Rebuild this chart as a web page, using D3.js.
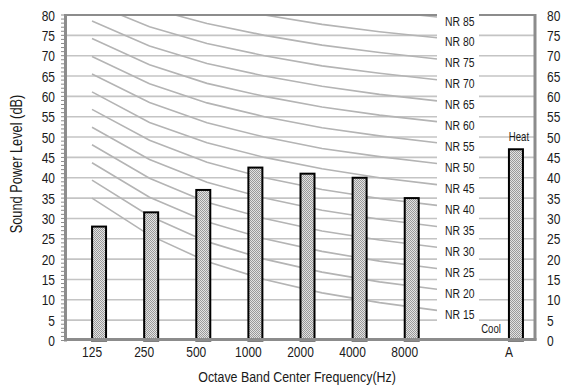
<!DOCTYPE html>
<html>
<head>
<meta charset="utf-8">
<script src="https://cdn.jsdelivr.net/npm/d3@7"></script>
<style>
  body { margin: 0; background: #fff; }
  text { font-family: "Liberation Sans", Arial, sans-serif; fill: #1a1a1a; }
</style>
</head>
<body>
<div id="chart"></div>
<script>
// categories on the bar axis ("" is the empty slot before A)
const categories = ["125", "250", "500", "1000", "2000", "4000", "8000", "", "A"]
const levels = [28, 31.5, 37, 42.5, 41, 40, 35, null, 47]

// NR curves, octave bands 125 .. 8000 Hz
const nrFreqs = ["125", "250", "500", "1000", "2000", "4000", "8000"]
const nrNames = [15, 20, 25, 30, 35, 40, 45, 50, 55, 60, 65, 70, 75, 80, 85]
const nrValues = [
  [35.0, 25.9, 19.4, 15, 11.7, 9.3, 7.4],
  [39.4, 30.6, 24.3, 20, 16.8, 14.4, 12.6],
  [43.7, 35.2, 29.2, 25, 21.9, 19.5, 17.7],
  [48.1, 39.9, 34.0, 30, 26.9, 24.7, 22.9],
  [52.4, 44.5, 38.9, 35, 32.0, 29.8, 28.0],
  [56.8, 49.2, 43.8, 40, 37.1, 34.9, 33.2],
  [61.1, 53.6, 48.6, 45, 42.2, 40.0, 38.3],
  [65.5, 58.5, 53.5, 50, 47.2, 45.2, 43.5],
  [69.8, 63.1, 58.4, 55, 52.3, 50.3, 48.6],
  [74.2, 67.8, 63.2, 60, 57.4, 55.4, 53.8],
  [78.5, 72.4, 68.1, 65, 62.5, 60.5, 58.9],
  [82.9, 77.1, 73.0, 70, 67.5, 65.7, 64.1],
  [87.2, 81.7, 77.9, 75, 72.6, 70.8, 69.2],
  [91.6, 86.4, 82.7, 80, 77.7, 75.9, 74.4],
  [95.9, 91.0, 87.6, 85, 82.8, 81.0, 79.5]
]
const yTicks = d3.range(0, 81, 5)

const width = 562
const height = 387
const plotL = 66, plotR = 535, plotT = 15, plotB = 340.5
const narrow = 0.8   // the chart font is a condensed sans

const svg = d3.select("#chart")
  .append("svg")
    .attr("width", width)
    .attr("height", height)

// condensed text: a scaled group around each label
function label(parent, px, py, str, size, anchor, rotate) {
  const g = parent.append("g")
    .attr("transform", `translate(${px},${py})` + (rotate ? " rotate(-90)" : "") + ` scale(${narrow},1)`)
  return g.append("text")
    .attr("text-anchor", anchor || "start")
    .attr("font-size", size)
    .text(str)
}

const defs = svg.append("defs")
const pat = defs.append("pattern")
    .attr("id", "dither")
    .attr("width", 2).attr("height", 2)
    .attr("patternUnits", "userSpaceOnUse")
pat.append("rect").attr("width", 2).attr("height", 2).attr("fill", "#e2e2e2")
pat.append("rect").attr("width", 1).attr("height", 1).attr("fill", "#9a9a9a")
pat.append("rect").attr("x", 1).attr("y", 1).attr("width", 1).attr("height", 1).attr("fill", "#9a9a9a")

defs.append("clipPath").attr("id", "plotClip")
  .append("rect")
    .attr("x", plotL).attr("y", plotT)
    .attr("width", plotR - plotL).attr("height", plotB - plotT)

const x = d3.scaleBand()
  .domain(categories)
  .range([plotL, plotR])
  .padding(0)

const xNR = d3.scalePoint()
  .domain(nrFreqs)
  .range([92, 437])

const y = d3.scaleLinear()
  .domain([0, 80])
  .range([plotB, plotT])

// horizontal grid
svg.append("g")
  .selectAll("line")
  .data(yTicks.filter(d => d > 0 && d < 80))
  .join("line")
    .attr("x1", plotL).attr("x2", plotR)
    .attr("y1", d => y(d)).attr("y2", d => y(d))
    .attr("stroke", "#c4c4c4")
    .attr("stroke-width", 1.6)

// NR curves
const line = d3.line()
  .x((d, i) => xNR(nrFreqs[i]))
  .y(d => y(d))

svg.append("g")
    .attr("clip-path", "url(#plotClip)")
  .selectAll("path")
  .data(nrValues)
  .join("path")
    .attr("d", line)
    .attr("fill", "none")
    .attr("stroke", "#b4b4b4")
    .attr("stroke-width", 1.6)

// white box behind NR labels
svg.append("rect")
    .attr("x", 437).attr("y", 11)
    .attr("width", 42).attr("height", plotB - 14)
    .attr("fill", "#fff")

// frame
const frame = svg.append("g").attr("stroke", "#8c8c8c")
frame.append("line").attr("x1", plotL).attr("x2", 437).attr("y1", plotT).attr("y2", plotT).attr("stroke-width", 2)
frame.append("line").attr("x1", 479).attr("x2", plotR).attr("y1", plotT).attr("y2", plotT).attr("stroke-width", 2)
frame.append("line").attr("x1", plotR).attr("x2", plotR).attr("y1", plotT - 1).attr("y2", plotB).attr("stroke-width", 3)

// bars
const barW = 14
svg.append("g")
  .selectAll("rect")
  .data(categories.map((c, i) => ({ c: c, v: levels[i] })).filter(d => d.v != null))
  .join("rect")
    .attr("x", d => x(d.c) + x.bandwidth() / 2)
    .attr("y", d => y(d.v))
    .attr("width", barW)
    .attr("height", d => y(0) - y(d.v))
    .attr("fill", "url(#dither)")
    .attr("stroke", "#000")
    .attr("stroke-width", 2)

// left and bottom axis lines
svg.append("line").attr("x1", 65.5).attr("x2", 65.5).attr("y1", plotT - 1).attr("y2", plotB + 1)
    .attr("stroke", "#8c8c8c").attr("stroke-width", 3)
svg.append("line").attr("x1", 64).attr("x2", plotR + 1.5).attr("y1", 339.5).attr("y2", 339.5)
    .attr("stroke", "#8c8c8c").attr("stroke-width", 3)

// minor ticks on the left axis
svg.append("g")
  .selectAll("line")
  .data(d3.range(0, 81, 1))
  .join("line")
    .attr("x1", 61).attr("x2", 64)
    .attr("y1", d => y(d)).attr("y2", d => y(d))
    .attr("stroke", "#8c8c8c")
    .attr("stroke-width", 1)

// y tick labels, both sides
const yl = svg.append("g")
yTicks.forEach(d => {
  label(yl, 55, y(d) + 5.5, d, 15, "end")
  label(yl, 547, y(d) + 5.5, d, 15, "start")
})

// x tick labels
const xl = svg.append("g")
categories.forEach(c => {
  label(xl, x(c) + x.bandwidth() / 2, 357, c, 15, "middle")
})

// NR labels at the end of each curve
const nl = svg.append("g")
nrNames.forEach((n, i) => {
  label(nl, 445, y(nrValues[i][6]) + 8.5, "NR " + n, 13, "start")
})

label(svg, x("A") + x.bandwidth() / 2 + barW / 2 + 3, y(levels[8]) - 8, "Heat", 12, "middle")
label(svg, 491, 333, "Cool", 12, "middle")

// axis titles
label(svg, 297, 382, "Octave Band Center Frequency(Hz)", 15.5, "middle")
label(svg, 22, 164, "Sound Power Level (dB)", 16, "middle", true)
</script>
</body>
</html>
